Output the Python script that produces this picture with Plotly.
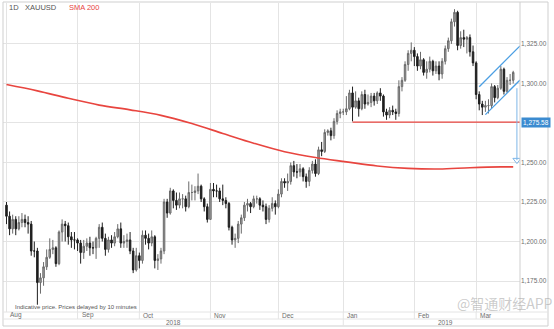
import pandas as pd
import plotly.graph_objects as go

W, H = 554, 329

# ---------------------------------------------------------------- data
symbol = "XAUUSD"
interval = "1D"
sma_label = "SMA 200"
footnote = "Indicative price. Prices delayed by 10 minutes"
watermark = "@智通财经APP"

dates = pd.bdate_range("2018-08-01", "2019-03-19")

opens = [
    1223, 1216, 1208, 1214, 1208, 1212, 1214, 1212, 1211, 1194, 1194, 1174, 1177, 1184, 1190, 1195, 1196, 1186, 1206, 1211, 1210, 1203, 1201,
    1201, 1199, 1193, 1197, 1199, 1196, 1196, 1202, 1209, 1202, 1195, 1201, 1199, 1203, 1208, 1199, 1200, 1201, 1194, 1182,
    1191, 1188, 1204, 1202, 1199, 1203, 1188, 1189, 1194, 1225, 1218, 1232, 1226, 1223, 1227, 1227, 1222, 1231, 1231, 1232, 1235, 1227, 1222,
    1214, 1233, 1232, 1232, 1227, 1226, 1224, 1209, 1201, 1202, 1211, 1215, 1223, 1224, 1222, 1227, 1227, 1223, 1222, 1214, 1221, 1224,
    1222, 1230, 1238, 1237, 1238, 1248, 1244, 1244, 1246, 1241, 1238, 1245, 1249, 1243, 1258, 1257, 1269, 1270, 1267, 1276, 1281,
    1282, 1282, 1284, 1294, 1285, 1289, 1284, 1293, 1287, 1288, 1292, 1289, 1294, 1292, 1282, 1280, 1283, 1282, 1281, 1298, 1302, 1312, 1319,
    1321, 1317, 1311, 1315, 1307, 1309, 1314, 1308, 1311, 1306, 1314, 1322, 1327, 1339, 1345, 1324, 1329, 1328, 1329, 1320,
    1313, 1293, 1287, 1285, 1286, 1286, 1298, 1291, 1297, 1309, 1295, 1302, 1302,
]
highs = [
    1225, 1219, 1217, 1216, 1216, 1218, 1217, 1216, 1213, 1200, 1196, 1180, 1187, 1195, 1202, 1201, 1197, 1207, 1214, 1213, 1212, 1206, 1206,
    1202, 1201, 1201, 1202, 1203, 1200, 1203, 1211, 1212, 1205, 1203, 1204, 1206, 1211, 1212, 1204, 1205, 1206, 1196, 1196,
    1193, 1207, 1207, 1205, 1207, 1204, 1192, 1196, 1227, 1227, 1234, 1233, 1231, 1231, 1230, 1229, 1238, 1236, 1235, 1243, 1236, 1228, 1224,
    1237, 1237, 1236, 1234, 1236, 1228, 1225, 1210, 1205, 1213, 1217, 1225, 1227, 1225, 1229, 1229, 1228, 1226, 1224, 1223, 1228, 1226,
    1233, 1240, 1240, 1243, 1250, 1251, 1249, 1249, 1247, 1243, 1247, 1251, 1252, 1260, 1263, 1271, 1271, 1272, 1278, 1283, 1284,
    1284, 1292, 1296, 1298, 1295, 1291, 1295, 1296, 1293, 1294, 1294, 1295, 1297, 1293, 1284, 1285, 1286, 1284, 1302, 1304, 1314, 1321, 1326,
    1323, 1319, 1320, 1316, 1314, 1317, 1315, 1314, 1314, 1316, 1324, 1329, 1341, 1347, 1346, 1333, 1334, 1330, 1331, 1324,
    1314, 1295, 1289, 1289, 1290, 1300, 1299, 1299, 1311, 1310, 1304, 1306, 1308,
]
lows = [
    1211, 1204, 1205, 1204, 1207, 1209, 1209, 1205, 1191, 1190, 1160, 1167, 1172, 1182, 1189, 1192, 1184, 1185, 1200, 1200, 1198, 1196, 1195,
    1194, 1186, 1189, 1194, 1191, 1192, 1189, 1196, 1200, 1191, 1193, 1196, 1197, 1202, 1196, 1196, 1196, 1192, 1180, 1181,
    1183, 1186, 1198, 1195, 1197, 1183, 1182, 1186, 1192, 1215, 1217, 1221, 1220, 1221, 1221, 1219, 1221, 1226, 1226, 1230, 1225, 1219, 1212,
    1214, 1228, 1228, 1225, 1223, 1221, 1207, 1198, 1196, 1199, 1205, 1213, 1219, 1218, 1221, 1224, 1220, 1219, 1211, 1212, 1219, 1217,
    1221, 1228, 1234, 1232, 1236, 1241, 1240, 1241, 1238, 1234, 1235, 1243, 1241, 1242, 1254, 1256, 1267, 1264, 1265, 1274, 1278,
    1280, 1280, 1283, 1276, 1284, 1279, 1283, 1284, 1286, 1285, 1286, 1287, 1289, 1279, 1277, 1278, 1280, 1277, 1279, 1295, 1301, 1308, 1314,
    1311, 1308, 1309, 1305, 1303, 1307, 1305, 1306, 1302, 1303, 1312, 1320, 1325, 1336, 1321, 1322, 1323, 1319, 1317, 1311,
    1290, 1283, 1280, 1282, 1281, 1284, 1288, 1290, 1296, 1293, 1294, 1299, 1300,
]
closes = [
    1216, 1208, 1214, 1208, 1212, 1214, 1212, 1211, 1194, 1194, 1174, 1177, 1184, 1190, 1195, 1196, 1186, 1206, 1211, 1210, 1203, 1201, 1201,
    1199, 1193, 1197, 1199, 1196, 1196, 1202, 1209, 1202, 1195, 1201, 1199, 1203, 1208, 1199, 1200, 1201, 1194, 1182, 1191,
    1188, 1204, 1202, 1199, 1203, 1188, 1189, 1194, 1225, 1218, 1232, 1226, 1223, 1227, 1227, 1222, 1231, 1231, 1232, 1235, 1227, 1222, 1214,
    1233, 1232, 1232, 1227, 1226, 1224, 1209, 1201, 1202, 1211, 1215, 1223, 1224, 1222, 1227, 1227, 1223, 1222, 1214, 1221, 1224, 1222,
    1230, 1238, 1237, 1238, 1248, 1244, 1244, 1246, 1241, 1238, 1245, 1249, 1243, 1258, 1257, 1269, 1270, 1267, 1276, 1281, 1282,
    1282, 1284, 1294, 1285, 1289, 1284, 1293, 1287, 1288, 1292, 1289, 1294, 1292, 1282, 1280, 1283, 1282, 1281, 1298, 1302, 1312, 1319, 1321,
    1317, 1311, 1315, 1307, 1309, 1314, 1308, 1311, 1306, 1314, 1322, 1327, 1339, 1345, 1324, 1329, 1328, 1329, 1320, 1313,
    1293, 1287, 1285, 1286, 1286, 1298, 1291, 1297, 1309, 1295, 1302, 1302, 1307,
]

# 200-day simple moving average, sampled every ten sessions
sma_dates = ["2018-08-01", "2018-08-15", "2018-08-29", "2018-09-12", "2018-09-26", "2018-10-10",
             "2018-10-24", "2018-11-07", "2018-11-21", "2018-12-05", "2018-12-19", "2019-01-02",
             "2019-01-16", "2019-01-30", "2019-02-13", "2019-02-27", "2019-03-13", "2019-03-19"]
sma_values = [1299.3, 1295.3, 1290.6, 1286.3, 1283.3, 1279.8,
              1274.6, 1268.4, 1262.2, 1256.8, 1253.1, 1250.4,
              1247.8, 1246.3, 1245.9, 1246.7, 1247.2, 1247.2]

# support level drawn from the 4 Jan low
level_date = "2019-01-04"
level_price = 1275.58

# rising channel: two anchors per rail
upper_dates, upper_prices = ["2019-03-04", "2019-03-13"], [1297.9, 1311.6]
lower_dates, lower_prices = ["2019-03-06", "2019-03-14"], [1280.3, 1292.0]

# projected move below the channel
arrow_from, arrow_to = 1297.0, 1250.0

price_ticks = [1175, 1200, 1225, 1250, 1275, 1300, 1325]

# ---------------------------------------------------------------- helpers
def px(x):
    return x / W


def py(y):
    return 1 - y / H


def pos(d):
    return int(dates.get_loc(pd.Timestamp(d)))


idx = list(range(len(dates)))
X_LO, X_HI = -1.13, len(dates) - 1 + 2.2
Y_LO, Y_HI = 1155.4, 1350.9

L, R, T, B = 3, 520, 3, 312     # plot box in pixels
FRAME_R, FRAME_B = 548, 326
MONTH_ROW_B = 319
YEAR_SPLIT_PX = 343

GRID = "#e4e4e4"
FRAME = "#cfcfcf"
RED = "#e8453f"
BLUE = "#4c9fe3"
FONT = "Arial, Liberation Sans, sans-serif"

month_starts = [i for i in idx if i == 0 or dates[i].month != dates[i - 1].month]
year_start = next(i for i in idx if i > 0 and dates[i].year != dates[i - 1].year)

fig = go.Figure()

fig.add_trace(go.Candlestick(
    x=idx, open=opens, high=highs, low=lows, close=closes,
    increasing=dict(line=dict(color="#6a6a6a", width=1), fillcolor="#a3a3a3"),
    decreasing=dict(line=dict(color="#1e1e1e", width=1), fillcolor="#1e1e1e"),
    whiskerwidth=0, showlegend=False, hoverinfo="skip",
))

fig.add_trace(go.Scatter(
    x=[pos(d) for d in sma_dates], y=sma_values, mode="lines",
    line=dict(color=RED, width=1.6, shape="spline", smoothing=1.0),
    showlegend=False, hoverinfo="skip",
))

# support line
fig.add_trace(go.Scatter(
    x=[pos(level_date), X_HI], y=[level_price, level_price], mode="lines",
    line=dict(color=RED, width=1.3), showlegend=False, hoverinfo="skip",
))


def rail(ds, ps):
    i0, i1 = pos(ds[0]), pos(ds[1])
    slope = (ps[1] - ps[0]) / (i1 - i0)
    return [i0, X_HI], [ps[0], ps[0] + slope * (X_HI - i0)]


for ds, ps in ((upper_dates, upper_prices), (lower_dates, lower_prices)):
    xs, ys = rail(ds, ps)
    fig.add_trace(go.Scatter(x=xs, y=ys, mode="lines", line=dict(color=BLUE, width=1.3),
                             showlegend=False, hoverinfo="skip"))

arrow_x = X_HI - 1.0
fig.add_trace(go.Scatter(x=[arrow_x, arrow_x], y=[arrow_from, arrow_to + 1.5], mode="lines",
                         line=dict(color="#7db6e8", width=1), showlegend=False, hoverinfo="skip"))
fig.add_trace(go.Scatter(x=[arrow_x], y=[arrow_to + 1.5], mode="markers",
                         marker=dict(symbol="triangle-down-open", size=7, color="#7db6e8",
                                     line=dict(width=1)),
                         showlegend=False, hoverinfo="skip"))

shapes = []
# outer frame, price column and the two date rows
shapes.append(dict(type="rect", xref="paper", yref="paper", x0=px(L), x1=px(FRAME_R),
                   y0=py(FRAME_B), y1=py(T - 1), line=dict(color=FRAME, width=1)))
shapes.append(dict(type="line", xref="paper", yref="paper", x0=px(R), x1=px(R),
                   y0=py(B), y1=py(T - 1), line=dict(color=FRAME, width=1)))
for yy in (B, MONTH_ROW_B):
    shapes.append(dict(type="line", xref="paper", yref="paper", x0=px(L), x1=px(FRAME_R),
                       y0=py(yy), y1=py(yy), line=dict(color=GRID, width=1)))
for m in month_starts[1:]:
    shapes.append(dict(type="line", xref="x", yref="paper", x0=m, x1=m,
                       y0=py(MONTH_ROW_B), y1=py(B), line=dict(color=GRID, width=1)))
shapes.append(dict(type="line", xref="x", yref="paper", x0=year_start, x1=year_start,
                   y0=py(FRAME_B), y1=py(MONTH_ROW_B), line=dict(color=GRID, width=1)))

annotations = []
small = dict(family=FONT, size=6.5, color="#6d6d6d")
for m in month_starts:
    annotations.append(dict(x=m, y=py(315), xref="x", yref="paper", text=dates[m].strftime("%b"),
                            showarrow=False, xanchor="left", yanchor="middle", xshift=2, font=small))
annotations.append(dict(x=px((L + YEAR_SPLIT_PX) / 2), y=py(322.5), xref="paper",
                        yref="paper", text=str(dates[0].year), showarrow=False,
                        xanchor="center", yanchor="middle", font=small))
annotations.append(dict(x=px((YEAR_SPLIT_PX + FRAME_R) / 2), y=py(322.5), xref="paper",
                        yref="paper", text=str(dates[-1].year), showarrow=False,
                        xanchor="center", yanchor="middle", font=small))

head = dict(family=FONT, size=7.5, color="#555555")
for text, x0, col in ((interval, 7, "#555555"), (symbol, 23, "#555555"), (sma_label, 67, RED)):
    annotations.append(dict(x=px(x0), y=py(7.5), xref="paper", yref="paper", text=text,
                            showarrow=False, xanchor="left", yanchor="middle",
                            font=dict(head, color=col)))

annotations.append(dict(x=px(13), y=py(307), xref="paper", yref="paper", text=footnote,
                        showarrow=False, xanchor="left", yanchor="middle",
                        font=dict(family=FONT, size=6, color="#555555")))

# price tag for the support level, sitting in the price column
annotations.append(dict(x=px(R + 0.5), y=level_price, xref="paper", yref="y",
                        text=f"{level_price:,.2f}", showarrow=False, xanchor="left",
                        yanchor="middle", bgcolor="#3b8bd0", borderpad=1,
                        font=dict(family=FONT, size=6.5, color="white")))

annotations.append(dict(x=px(505), y=py(303), xref="paper", yref="paper", text=watermark,
                        showarrow=False, xanchor="center", yanchor="middle",
                        font=dict(family="Noto Sans CJK SC", size=14,
                                  color="rgba(160,160,160,0.55)")))

# the level's tag covers the round-number label it sits on
tick_text = ["" if abs(v - level_price) < 3 else f"{v:,.2f}" for v in price_ticks]

fig.update_layout(
    width=W, height=H, margin=dict(l=0, r=0, t=0, b=0),
    paper_bgcolor="white", plot_bgcolor="white",
    shapes=shapes, annotations=annotations,
    xaxis=dict(domain=[px(L), px(R)], range=[X_LO, X_HI], rangeslider=dict(visible=False),
               tickmode="array", tickvals=month_starts, showticklabels=False,
               showgrid=True, gridcolor=GRID, gridwidth=1, zeroline=False, showline=False,
               ticks=""),
    yaxis=dict(domain=[py(B), py(T)], range=[Y_LO, Y_HI], side="right",
               tickmode="array", tickvals=price_ticks, ticktext=tick_text,
               tickfont=dict(family=FONT, size=6.5, color="#6d6d6d"),
               showgrid=True, gridcolor=GRID, gridwidth=1, zeroline=False, showline=False,
               ticks=""),
)

fig.write_html("out.html")
